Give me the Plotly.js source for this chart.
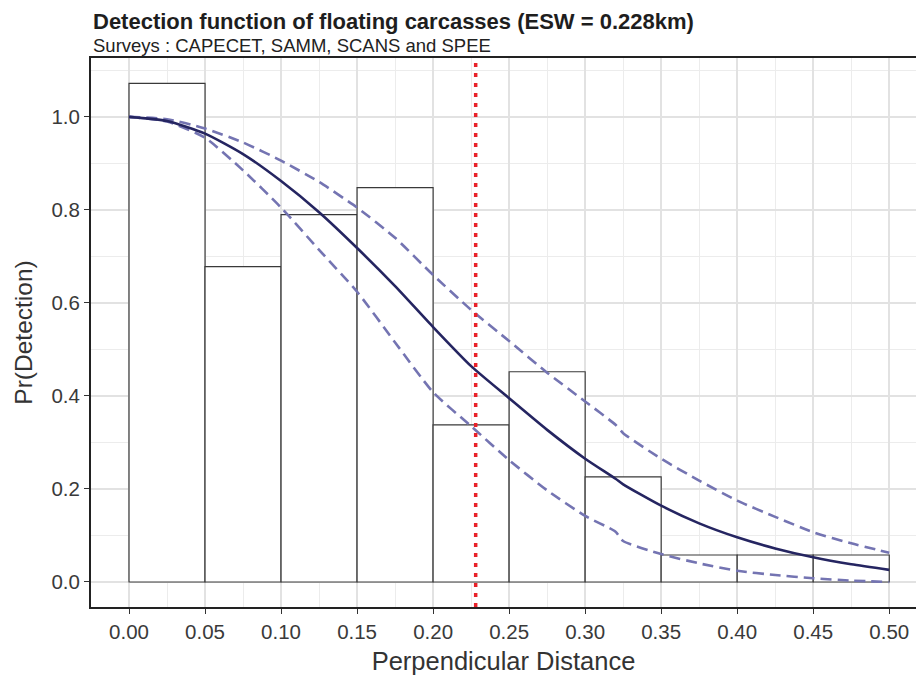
<!DOCTYPE html>
<html>
<head>
<meta charset="utf-8">
<script src="https://cdn.plot.ly/plotly-3.0.1.min.js"></script>
<style>html,body{margin:0;padding:0;background:#fff}#chart{width:916px;height:675px}</style>
</head>
<body>
<div id="chart"></div>
<script>
// Histogram bins (left edges) and scaled heights
const binLeft = [0.00, 0.05, 0.10, 0.15, 0.20, 0.25, 0.30, 0.35, 0.40, 0.45];
const binWidth = 0.05;
const binHeight = [1.072, 0.678, 0.790, 0.848, 0.338, 0.452, 0.226, 0.058, 0.058, 0.058];

// Fitted detection function and its confidence bounds
const distance = [0.000, 0.025, 0.050, 0.075, 0.100, 0.125, 0.150, 0.175, 0.200, 0.225, 0.250, 0.275, 0.300, 0.320, 0.325, 0.350, 0.375, 0.400, 0.425, 0.450, 0.475, 0.500];
const fitted   = [1.000, 0.991, 0.964, 0.920, 0.862, 0.795, 0.718, 0.636, 0.548, 0.464, 0.395, 0.327, 0.265, 0.222, 0.210, 0.164, 0.126, 0.096, 0.072, 0.053, 0.038, 0.026];
const upperCI  = [1.000, 0.995, 0.975, 0.945, 0.906, 0.860, 0.805, 0.740, 0.660, 0.585, 0.518, 0.450, 0.388, 0.338, 0.320, 0.265, 0.218, 0.175, 0.140, 0.107, 0.083, 0.063];
const lowerCI  = [1.000, 0.990, 0.955, 0.885, 0.805, 0.714, 0.624, 0.515, 0.408, 0.335, 0.262, 0.197, 0.142, 0.108, 0.088, 0.060, 0.040, 0.024, 0.015, 0.008, 0.003, 0.000];

const esw = 0.228;
const xTicks = [0.00, 0.05, 0.10, 0.15, 0.20, 0.25, 0.30, 0.35, 0.40, 0.45, 0.50];
const yTicks = [0.0, 0.2, 0.4, 0.6, 0.8, 1.0];

const titleText = "Detection function of floating carcasses (ESW = 0.228km)";
const subtitleText = "Surveys : CAPECET, SAMM, SCANS and SPEE";
const xTitle = "Perpendicular Distance";
const yTitle = "Pr(Detection)";

const FONT = "Liberation Sans, Arial, Helvetica, sans-serif";

const traces = [
  {
    type: "bar",
    x: binLeft.map(v => v + binWidth / 2),
    y: binHeight,
    width: binWidth,
    marker: {color: "#ffffff", line: {color: "#3a3a3a", width: 1.2}},
    hoverinfo: "skip",
    showlegend: false
  },
  {
    type: "scatter", mode: "lines",
    x: distance, y: upperCI,
    line: {color: "#7474b2", width: 2.6, dash: "11px,6px", shape: "spline", smoothing: 0.6},
    showlegend: false
  },
  {
    type: "scatter", mode: "lines",
    x: distance, y: lowerCI,
    line: {color: "#7474b2", width: 2.6, dash: "11px,6px", shape: "spline", smoothing: 0.6},
    showlegend: false
  },
  {
    type: "scatter", mode: "lines",
    x: distance, y: fitted,
    line: {color: "#252561", width: 2.6, shape: "spline", smoothing: 0.6},
    showlegend: false
  }
];

const layout = {
  width: 916, height: 675,
  margin: {l: 91, r: 0, t: 58, b: 68},
  paper_bgcolor: "#ffffff",
  plot_bgcolor: "#ffffff",
  bargap: 0,
  font: {family: FONT, color: "#333333"},
  xaxis: {
    range: [-0.025, 0.5176],
    tickvals: xTicks,
    ticktext: xTicks.map(v => v.toFixed(2)),
    tickfont: {size: 20.5, color: "#3a3a3a"},
    ticks: "outside", ticklen: 5, tickwidth: 1, tickcolor: "#333",
    showline: true, linecolor: "#222", linewidth: 2, mirror: true,
    showgrid: true, gridcolor: "#e2e2e2", gridwidth: 1.5,
    minor: {dtick: 0.05, tick0: 0.025, showgrid: true, gridcolor: "#ececec", gridwidth: 1},
    zeroline: false,
    title: {text: xTitle, font: {size: 25.5, color: "#333"}, standoff: 12}
  },
  yaxis: {
    range: [-0.0538, 1.1266],
    tickvals: yTicks,
    ticktext: yTicks.map(v => v.toFixed(1)),
    tickfont: {size: 20.5, color: "#3a3a3a"},
    ticks: "outside", ticklen: 5, tickwidth: 1, tickcolor: "#333",
    showline: true, linecolor: "#222", linewidth: 2,
    showgrid: true, gridcolor: "#e2e2e2", gridwidth: 1.5,
    minor: {dtick: 0.2, tick0: 0.1, showgrid: true, gridcolor: "#ececec", gridwidth: 1},
    zeroline: false,
    title: {text: yTitle, font: {size: 24.5, color: "#333"}, standoff: 12}
  },
  shapes: [
    {
      type: "line", xref: "x", yref: "paper",
      x0: esw, x1: esw, y0: 0, y1: 1,
      line: {color: "#e8222a", width: 3.5, dash: "4px,6px"},
      layer: "above"
    }
  ],
  annotations: [
    {
      text: "<b>" + titleText + "</b>",
      xref: "paper", yref: "paper", x: 0, y: 1 + (58 - 21) / 549,
      xanchor: "left", yanchor: "middle", showarrow: false,
      font: {family: FONT, size: 22, color: "#1e1e1e"}
    },
    {
      text: subtitleText,
      xref: "paper", yref: "paper", x: 0, y: 1 + (58 - 45) / 549,
      xanchor: "left", yanchor: "middle", showarrow: false,
      font: {family: FONT, size: 18.5, color: "#222"}
    }
  ]
};

Plotly.newPlot("chart", traces, layout, {displayModeBar: false, staticPlot: true});
</script>
</body>
</html>
